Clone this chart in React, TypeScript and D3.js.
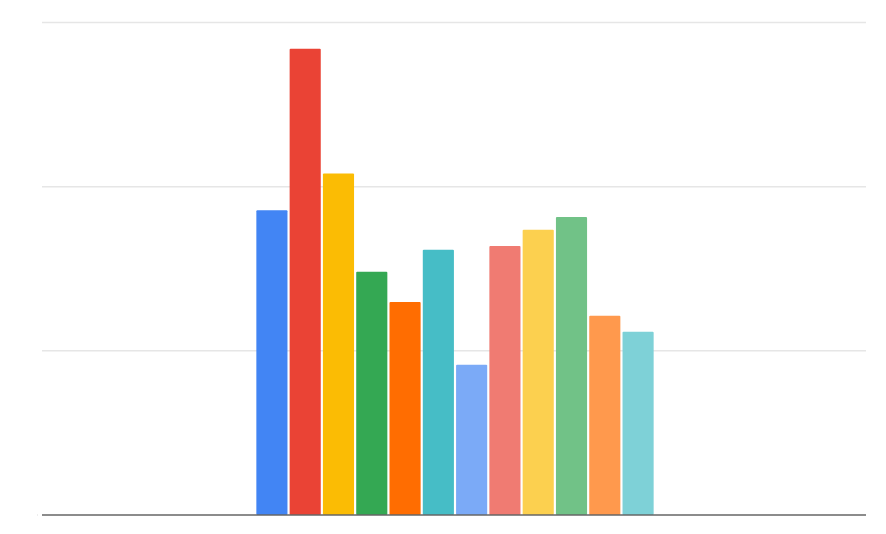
import React from "react";
import * as d3 from "d3";

const categories = ["Group"];
const seriesNames = ["S1", "S2", "S3", "S4", "S5", "S6", "S7", "S8", "S9", "S10", "S11", "S12"];
const seriesValues = [1.856, 2.84, 2.08, 1.482, 1.298, 1.616, 0.915, 1.638, 1.737, 1.815, 1.213, 1.116];
const seriesColors = ["#4285F4", "#EA4335", "#FBBC04", "#34A853", "#FF6D01", "#46BDC6", "#7BAAF7", "#F07B72", "#FCD04F", "#71C287", "#FF994D", "#7ED1D7"];
const yTicks = [0, 1, 2, 3];

const W = 886;
const H = 534;
const margin = { left: 42, right: 20, top: 22.5, bottom: 19 };

export default function App() {
  const x0 = d3
    .scaleBand<string>()
    .domain(categories)
    .range([margin.left + 1, W - margin.right + 1])
    .paddingInner(0)
    .paddingOuter(0.537);
  const x1 = d3
    .scaleBand<string>()
    .domain(seriesNames)
    .range([0, x0.bandwidth()])
    .paddingInner(0.065)
    .paddingOuter(0);
  const y = d3
    .scaleLinear()
    .domain([0, 3])
    .range([H - margin.bottom, margin.top]);

  return (
    <div style={{ position: "absolute", left: 0, top: 0 }}>
      <svg width={W} height={H} style={{ display: "block", background: "#fff" }}>
        {yTicks.slice(1).map((t) => (
          <line
            key={t}
            x1={margin.left}
            x2={W - margin.right}
            y1={y(t)}
            y2={y(t)}
            stroke="#e6e6e6"
            strokeWidth={1.5}
          />
        ))}
        {categories.map((c) =>
          seriesNames.map((s, i) => {
            const v = seriesValues[i];
            const bx = (x0(c) ?? 0) + (x1(s) ?? 0);
            return (
              <rect
                key={c + s}
                x={bx}
                y={y(v)}
                width={x1.bandwidth()}
                height={y(0) - y(v)}
                fill={seriesColors[i]}
                rx={1}
              />
            );
          })
        )}
        <line
          x1={margin.left}
          x2={W - margin.right}
          y1={y(0)}
          y2={y(0)}
          stroke="#666666"
          strokeWidth={1.3}
        />
        <line x1={37} x2={38} y1={y(0)} y2={y(0)} stroke="#dddddd" strokeWidth={1} />
      </svg>
    </div>
  );
}
